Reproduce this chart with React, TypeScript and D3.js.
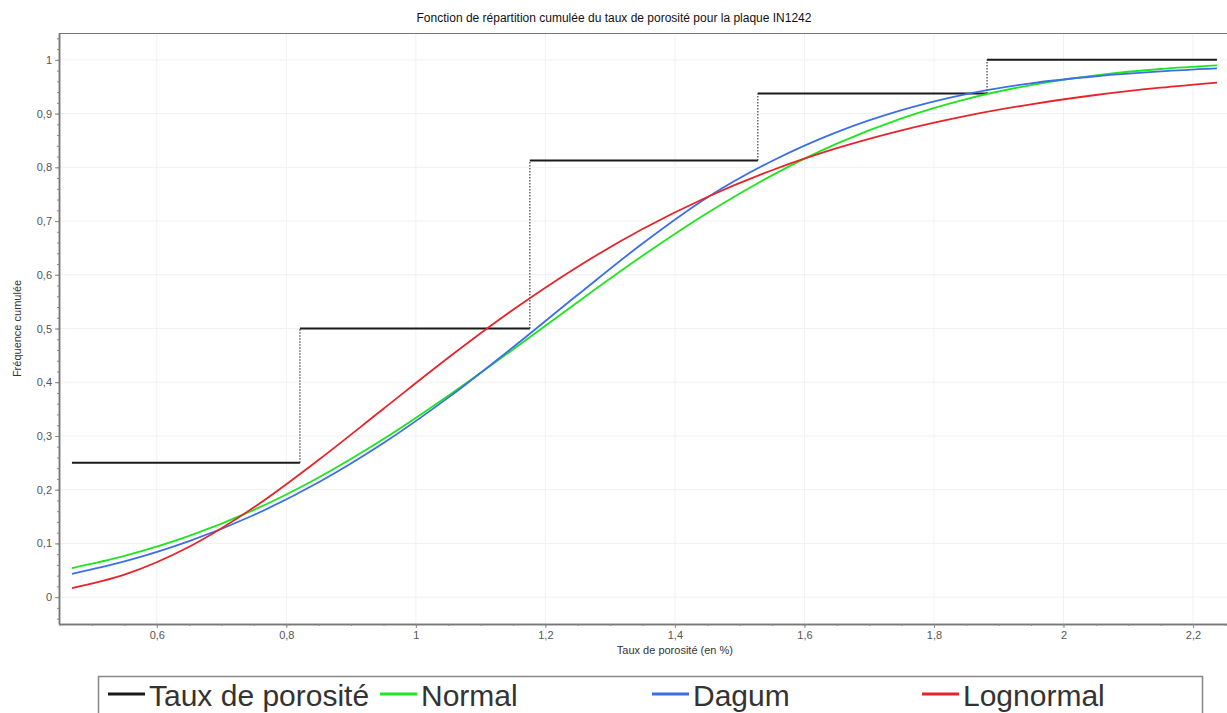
import React, { useEffect, useRef } from "react";
import * as d3 from "d3";

// sample points of the fitted curves
const xGrid = [0.469, 0.55, 0.65, 0.75, 0.85, 0.95, 1.05, 1.15, 1.25, 1.35, 1.45, 1.55, 1.65, 1.75, 1.85, 1.95, 2.05, 2.15, 2.237];
const normalCdf = [0.054, 0.0767, 0.1139, 0.1624, 0.2228, 0.2942, 0.3748, 0.4611, 0.5494, 0.6353, 0.7149, 0.785, 0.844, 0.8912, 0.9271, 0.9531, 0.9712, 0.983, 0.9896];
const dagumCdf = [0.0432, 0.0664, 0.1041, 0.1529, 0.2137, 0.2867, 0.3713, 0.465, 0.5627, 0.6582, 0.7439, 0.8118, 0.8655, 0.9063, 0.9362, 0.9564, 0.9695, 0.9785, 0.984];
const lognormalCdf = [0.0169, 0.0418, 0.0937, 0.1671, 0.2556, 0.3507, 0.4455, 0.5347, 0.615, 0.6851, 0.7448, 0.7946, 0.8356, 0.8689, 0.8958, 0.9173, 0.9346, 0.9482, 0.9578];

// empirical step function
const stepEdges = [0.469, 0.821, 1.176, 1.528, 1.882, 2.237];
const stepLevels = [0.25, 0.5, 0.8125, 0.9375, 1.0];

const xTicks = [0.6, 0.8, 1, 1.2, 1.4, 1.6, 1.8, 2, 2.2];
const yTicks = [0, 0.1, 0.2, 0.3, 0.4, 0.5, 0.6, 0.7, 0.8, 0.9, 1];

const seriesNames = ["Taux de porosité", "Normal", "Dagum", "Lognormal"];
const seriesColors = ["#1a1a1a", "#1ee61e", "#3b6fe8", "#e8232b"];

const W = 1227;
const H = 713;
const FONT = "'Liberation Sans', Arial, sans-serif";

const fmt = (d: number) => String(+d.toFixed(2)).replace(".", ",");

export default function App() {
  const ref = useRef<SVGSVGElement>(null);

  useEffect(() => {
    const svg = d3.select(ref.current);
    svg.selectAll("*").remove();

    const left = 59, top = 33, right = 1227, bottom = 624;
    const x = d3.scaleLinear().domain([0.449, 2.2525]).range([left, right]);
    const y = d3.scaleLinear().domain([-0.05, 1.05]).range([bottom, top]);

    svg.append("rect").attr("width", W).attr("height", H).attr("fill", "#fff");

    // title
    svg.append("text")
      .attr("x", 614).attr("y", 22)
      .attr("text-anchor", "middle")
      .attr("font-family", FONT).attr("font-size", 12)
      .attr("fill", "#111")
      .text("Fonction de répartition cumulée du taux de porosité pour la plaque IN1242");

    // faint grid
    const grid = svg.append("g").attr("stroke", "#f1f1f1").attr("stroke-width", 1);
    xTicks.forEach(t => {
      grid.append("line").attr("x1", x(t)).attr("x2", x(t)).attr("y1", top).attr("y2", bottom);
    });
    yTicks.forEach(t => {
      grid.append("line").attr("x1", left).attr("x2", right).attr("y1", y(t)).attr("y2", y(t));
    });

    // frame top line
    svg.append("line")
      .attr("x1", left).attr("x2", right).attr("y1", top + 0.5).attr("y2", top + 0.5)
      .attr("stroke", "#777");

    // axes
    const xAxis = svg.append("g")
      .attr("transform", `translate(0,${bottom})`)
      .call(d3.axisBottom(x).tickValues(xTicks).tickFormat(d => fmt(+d)).tickSize(4).tickSizeOuter(0));
    const xMinor = svg.append("g")
      .attr("transform", `translate(0,${bottom})`)
      .call(d3.axisBottom(x).tickValues(d3.range(0.45, 2.26, 0.05)).tickFormat(() => "").tickSize(2).tickSizeOuter(0));
    const yAxis = svg.append("g")
      .attr("transform", `translate(${left},0)`)
      .call(d3.axisLeft(y).tickValues(yTicks).tickFormat(d => fmt(+d)).tickSize(4).tickSizeOuter(0));
    const yMinor = svg.append("g")
      .attr("transform", `translate(${left},0)`)
      .call(d3.axisLeft(y).tickValues(d3.range(-0.04, 1.05, 0.02)).tickFormat(() => "").tickSize(2).tickSizeOuter(0));

    [xAxis, xMinor, yAxis, yMinor].forEach(g => {
      g.select(".domain").attr("stroke", "#777").attr("stroke-width", 1.5);
      g.selectAll(".tick line").attr("stroke", "#888");
      g.selectAll(".tick text")
        .attr("font-family", FONT).attr("font-size", 11).attr("fill", "#555");
    });
    xAxis.selectAll(".tick text").attr("y", 7).attr("dy", "0.71em");

    // axis titles
    svg.append("text")
      .attr("x", x(1.4)).attr("y", 654)
      .attr("text-anchor", "middle")
      .attr("font-family", FONT).attr("font-size", 11).attr("fill", "#333")
      .text("Taux de porosité (en %)");
    svg.append("text")
      .attr("transform", `translate(21,${(top + bottom) / 2}) rotate(-90)`)
      .attr("text-anchor", "middle")
      .attr("font-family", FONT).attr("font-size", 11).attr("fill", "#333")
      .text("Fréquence cumulée");

    const plot = svg.append("g");

    // dotted risers
    stepLevels.slice(1).forEach((lv, i) => {
      plot.append("line")
        .attr("x1", x(stepEdges[i + 1])).attr("x2", x(stepEdges[i + 1]))
        .attr("y1", y(stepLevels[i])).attr("y2", y(lv))
        .attr("stroke", "#666").attr("stroke-width", 1.5)
        .attr("stroke-dasharray", "1.5,1.5");
    });
    // horizontal steps
    stepLevels.forEach((lv, i) => {
      plot.append("line")
        .attr("x1", x(stepEdges[i])).attr("x2", x(stepEdges[i + 1]))
        .attr("y1", y(lv)).attr("y2", y(lv))
        .attr("stroke", seriesColors[0]).attr("stroke-width", 2);
    });

    const line = d3.line<[number, number]>()
      .x(d => x(d[0])).y(d => y(d[1]))
      .curve(d3.curveMonotoneX);

    [normalCdf, dagumCdf, lognormalCdf].forEach((vals, i) => {
      plot.append("path")
        .datum(xGrid.map((xv, j) => [xv, vals[j]] as [number, number]))
        .attr("d", line)
        .attr("fill", "none")
        .attr("stroke", seriesColors[i + 1])
        .attr("stroke-width", 1.8);
    });

    // legend
    const lg = svg.append("g");
    lg.append("rect")
      .attr("x", 98.5).attr("y", 676.5).attr("width", 1104).attr("height", 60)
      .attr("fill", "#fff").attr("stroke", "#888").attr("stroke-width", 1.5);
    const legendX = [108, 380, 652, 922];
    seriesNames.forEach((name, i) => {
      lg.append("line")
        .attr("x1", legendX[i]).attr("x2", legendX[i] + 37)
        .attr("y1", 694).attr("y2", 694)
        .attr("stroke", seriesColors[i]).attr("stroke-width", 3);
      lg.append("text")
        .attr("x", legendX[i] + 41).attr("y", 706)
        .attr("font-family", FONT).attr("font-size", 30).attr("fill", "#333")
        .text(name);
    });
  }, []);

  return (
    <svg
      ref={ref}
      width={W}
      height={H}
      style={{ position: "absolute", left: 0, top: 0, display: "block" }}
    />
  );
}
